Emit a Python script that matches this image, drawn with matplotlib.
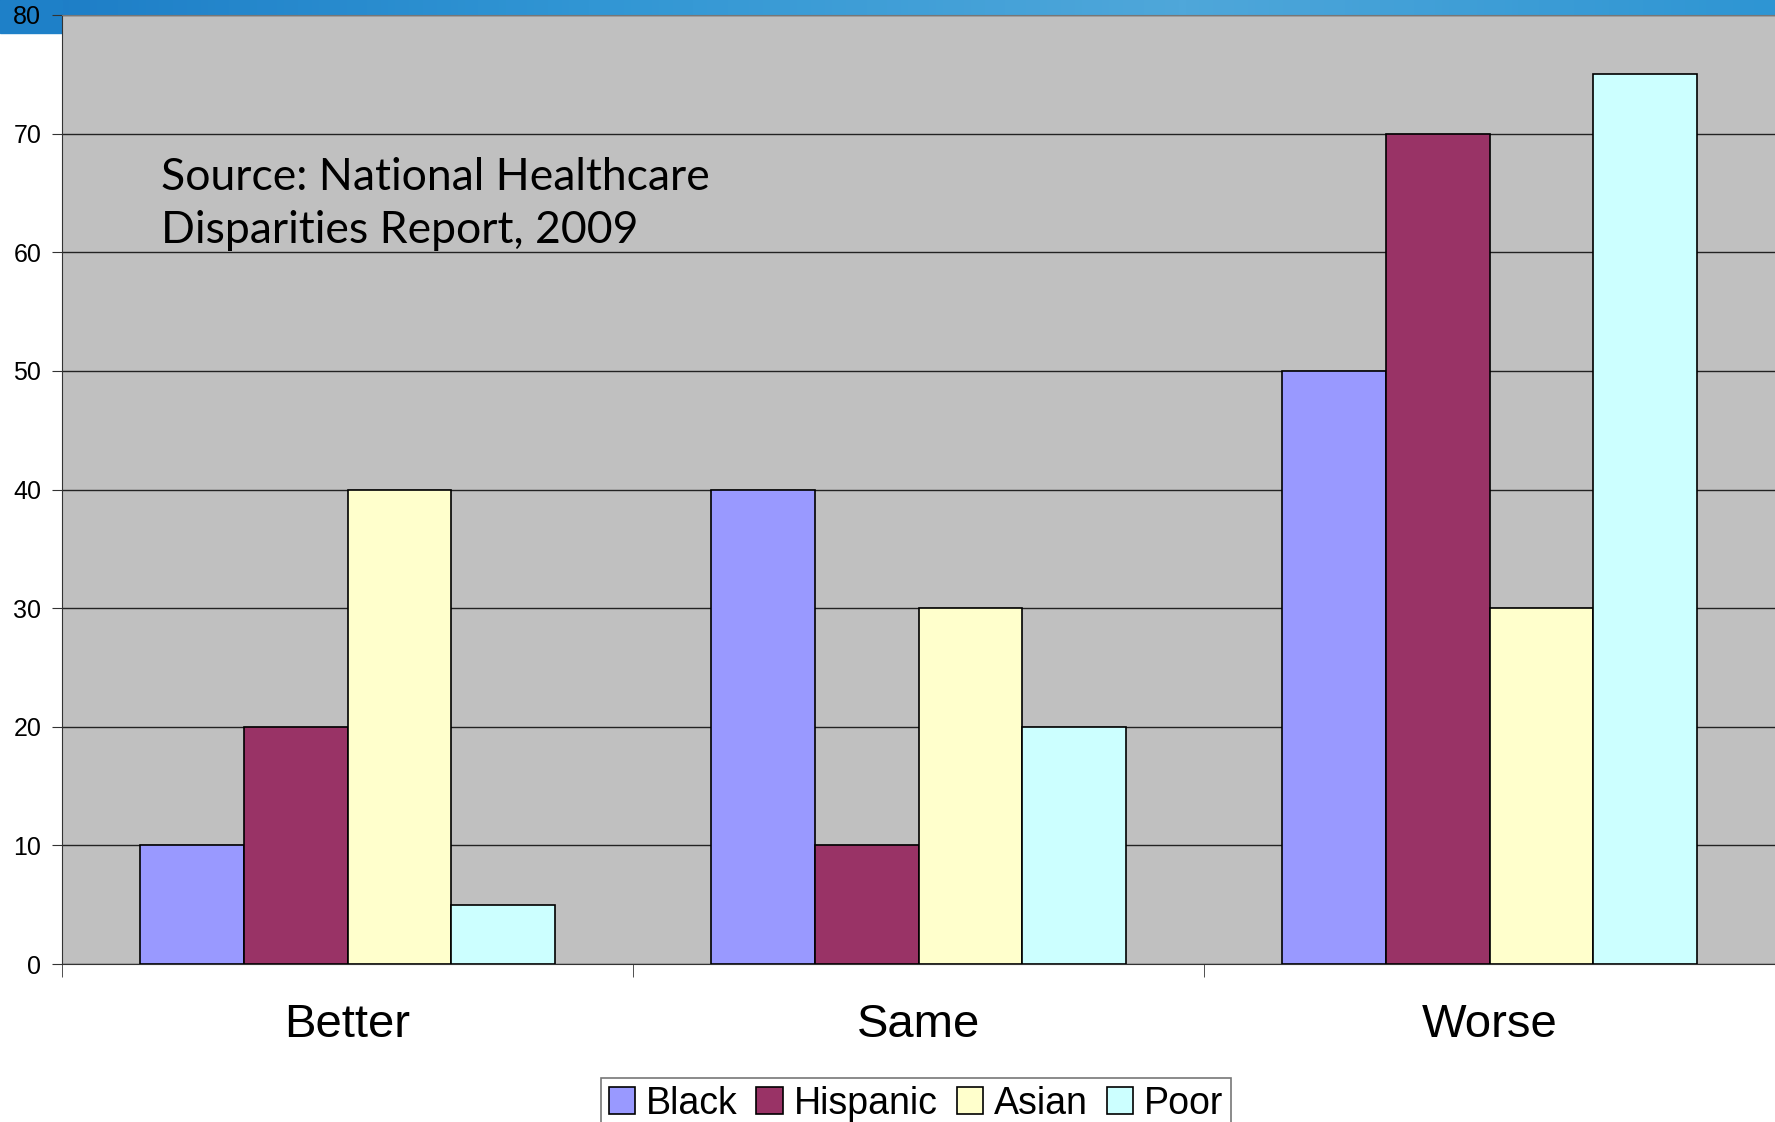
import numpy as np
import matplotlib
matplotlib.use("Agg")
from matplotlib import pyplot as plt
from matplotlib.patches import Rectangle

# data
categories = ['Better', 'Same', 'Worse']
series = ['Black', 'Hispanic', 'Asian', 'Poor']
black = [10, 40, 50]
hispanic = [20, 10, 70]
asian = [40, 30, 30]
poor = [5, 20, 75]
colors = ['#9999FF', '#993366', '#FFFFCC', '#CCFFFF']
y_ticks = list(range(0, 81, 10))

plt.rcParams['font.family'] = ['Liberation Sans', 'DejaVu Sans']

W, H = 1775, 1122
fig = plt.figure(figsize=(W / 100, H / 100), dpi=100)

# blue banner of the slide
band = fig.add_axes([0, 1 - 15 / H, 1, 15 / H], zorder=0)
grad = np.linspace(0, 1, 256).reshape(1, -1)
band.imshow(grad, aspect='auto', cmap=matplotlib.colors.LinearSegmentedColormap.from_list(
    'b', ['#1C7CC6', '#3196D4', '#4FA7DA', '#2E95D3']), extent=[0, 1, 0, 1])
band.axis('off')
fig.patches.append(Rectangle((0, 1 - 33 / H), 62 / W, 33 / H, transform=fig.transFigure,
                             color='#1E80C8', zorder=0))

ax = fig.add_axes([62 / W, 158 / H, 1 - 62 / W, 949 / H], zorder=2)
ax.set_facecolor('#C0C0C0')

x = np.arange(len(categories))
w = 0.182
vals = [black, hispanic, asian, poor]
for i, (name, v) in enumerate(zip(series, vals)):
    ax.bar(x + (i - 1.5) * w, v, w, color=colors[i], edgecolor='black', linewidth=1.2,
           label=name, zorder=3)

ax.set_xlim(-0.5, 2.5)
ax.set_ylim(0, 80)
ax.set_yticks(y_ticks)
ax.tick_params(axis='y', labelsize=18, length=7, pad=8, color='#333333')
ax.yaxis.grid(True, color='#222222', linewidth=1, zorder=1)
ax.set_axisbelow(True)

ax.set_xticks(x)
ax.set_xticklabels(categories, fontsize=34)
ax.set_xticks([-0.5, 0.5, 1.5], minor=True)
ax.tick_params(axis='x', which='major', length=0, pad=28)
ax.tick_params(axis='x', which='minor', length=9, color='#333333')

ax.spines['right'].set_visible(False)
ax.spines['left'].set_color('#333333')
ax.spines['bottom'].set_color('#333333')
ax.spines['top'].set_color('#777777')

fig.text(161 / W, 1 - 243 / H, 'Source: National Healthcare\nDisparities Report, 2009',
         family='Lato', fontsize=32, va='baseline', ha='left', linespacing=1.36, zorder=5)

leg = fig.legend(loc='upper center', bbox_to_anchor=(916 / W, 1 - 1078 / H), ncol=4,
                 fontsize=27, frameon=True, fancybox=False, handlelength=0.7, handleheight=0.7,
                 handletextpad=0.3, columnspacing=0.5, borderpad=0.2, borderaxespad=0)
leg.get_frame().set_edgecolor('#555555')
leg.get_frame().set_linewidth(1.2)

fig.savefig('out.png', dpi=100)
